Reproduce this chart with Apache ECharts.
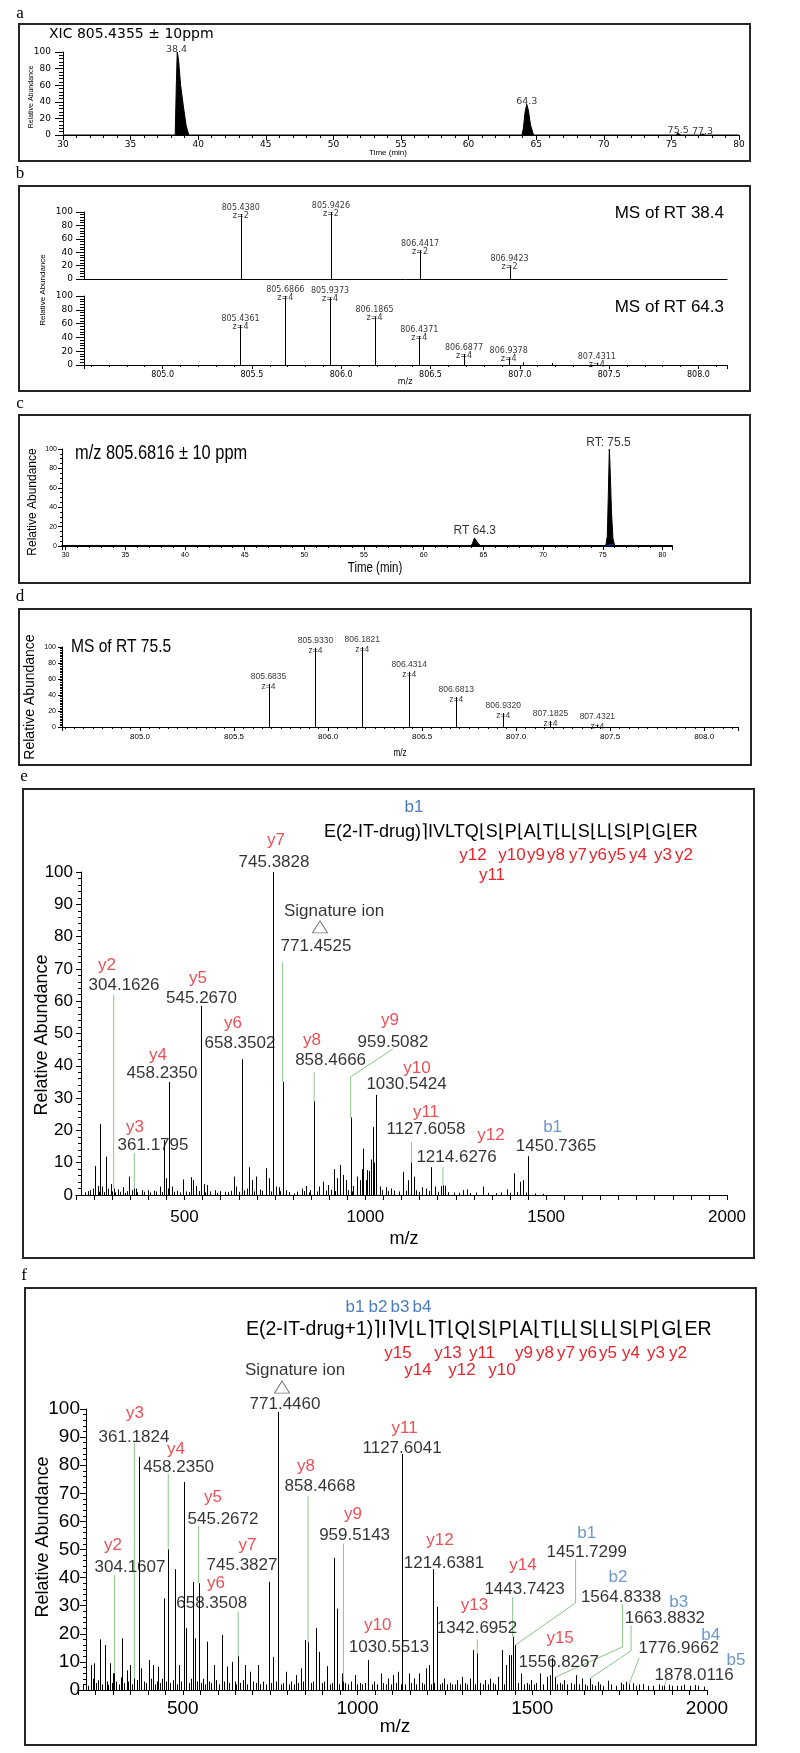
<!DOCTYPE html>
<html><head><meta charset="utf-8">
<script src="https://cdn.jsdelivr.net/npm/echarts@6/dist/echarts.min.js"></script>
<style>html,body{margin:0;padding:0;background:#fff}#c{width:800px;height:1753px}</style>
</head><body><div id="c"></div>
<script>
// ================= DATA =================
// Panel a: XIC 805.4355 (time, relative abundance)
const aTrace = [[30,0],[38.3,0],[38.38,60],[38.45,100],[38.55,90],[38.7,60],[38.9,35],[39.1,12],[39.3,0],
  [63.95,0],[64.05,8],[64.18,28],[64.3,37],[64.42,30],[64.58,12],[64.8,0],
  [75.3,0],[75.5,2],[75.7,0],[77.1,0],[77.3,1.2],[77.5,0],[80,0]];
const aPeakRT = [38.4, 64.3, 75.5, 77.3];
const aPeakTop = [100, 37, 2, 1.2];

// Panel b: MS of RT 38.4 and RT 64.3
const bTopMz = [805.4380, 805.9426, 806.4417, 806.9423];
const bTopInt = [97, 100, 43, 20];
const bTopZ = [2, 2, 2, 2];
const bBotMz = [805.4361, 805.6866, 805.9373, 806.1865, 806.4371, 806.6877, 806.9378, 807.4311];
const bBotInt = [58, 100, 98, 70, 42, 16, 11, 3];
const bBotZ = [4, 4, 4, 4, 4, 4, 4, 4];
const bBotMinor = [[807.02, 4], [807.18, 3]];

// Panel c: XIC 805.6816
const cTrace = [[29.7,0],[63.95,0],[64.1,3],[64.25,8.3],[64.4,6.5],[64.6,2],[64.8,0],
  [75.25,0],[75.38,10],[75.47,55],[75.55,100],[75.63,75],[75.73,35],[75.85,8],[76.0,0],[80.8,0]];
const cBaseFlag = [[74.95,0],[75.05,1.8],[75.9,1.8],[76.05,0]];
const cLabels = ['RT 64.3', 'RT: 75.5'];
const cLabelAt = [[64.27, 15.5], [75.48, 107]];

// Panel d: MS of RT 75.5
const dMz = [805.6835, 805.9330, 806.1821, 806.4314, 806.6813, 806.9320, 807.1825, 807.4321];
const dInt = [54, 99, 100, 69, 37.5, 17.5, 7.5, 3];
const dZ = [4, 4, 4, 4, 4, 4, 4, 4];

// Panel e: MS/MS, annotated peaks
const eLabMz  = [304.1626, 361.1795, 458.2350, 545.2670, 658.3502, 745.3828, 771.4525, 858.4666, 959.5082, 1030.5424, 1127.6058, 1214.6276, 1450.7365];
const eLabIon = ['y2','y3','y4','y5','y6','y7','','y8','y9','y10','y11','y12','b1'];
const eLabInt = [2, 2, 35, 58.5, 42, 100, 35, 29, 24, 31, 10, 3, 12];
const eNoise = [[226,0.8],[233,1.2],[240,1.5],[246,2],[253,9],[260,2.8],[263,1],[266,22],[272,2.6],[278,0.9],[283,11.9],[289,2],[297,3.4],
  [300,1.1],[309,0.8],[315,1.7],[322,1],[329,2.4],[335,0.7],[342,1.2],[347.5,5.7],[354,1.5],[366,2],[370,0.9],[382,1.5],[387,1],[398,1.5],
  [405,0.8],[417,1.3],[422,1.1],[431,2.6],[437,0.9],[443,17],[449,5.2],[454,2],[465,2.6],[470,1],[480,1.3],[488,0.8],[495,4.8],[505,1.1],
  [512,0.9],[518,5.5],[523,4.6],[533,2.8],[540,1.2],[553,3.4],[558,0.8],[563,3.1],[570,1.1],[583,1.5],[590,0.7],[598,1.2],[613,1],[620,0.9],
  [628,1.3],[638,5.7],[643,2.6],[650,1],[665,1.4],[673,2],[678,8.6],[688,4.6],[692,1.1],[698,5.7],[708,1.7],[715,1.3],[725,8.3],[733,5.2],
  [740,1.1],[752,2.6],[760,2.4],[765,1.2],[780,1.5],[790,0.9],[802,0.5],[810,1],[824,2],[830,1.2],[837,2.8],[843,0.8],[848,1.5],[865,1.1],
  [872,2.6],[882,4.1],[890,1.4],[897,3.1],[905,1.6],[912,8],[917,1.2],[922,5.2],[930,9.3],[937,6.2],[947,4.6],[953,1.5],[963,1.1],[967,2.8],
  [976,5.7],[984.5,4.6],[991,8],[994,14.4],[1001,4.6],[1005,7.7],[1010,7.4],[1015,11],[1021,21],[1025,10],[1040,2.6],[1045,1.5],[1056,2.4],
  [1062,1.2],[1071,2],[1080,1.4],[1092,1.1],[1105,7.2],[1112,1.3],[1119,4.6],[1134,5.7],[1140,1.5],[1148,1],[1156,2.4],[1168,2],[1176,1.2],
  [1182,8.6],[1192,2.6],[1200,1],[1210,2.8],[1220,2.8],[1228,0.9],[1245,0.8],[1260,0.7],[1271,1.5],[1281,1.7],[1290,0.6],[1305,0.8],[1326,2.6],
  [1340,0.7],[1360,0.6],[1375,0.8],[1391,1.7],[1400,0.7],[1411,6.7],[1420,0.9],[1429,4.1],[1436,4.6],[1445,0.8],[1470,0.5],[1490,0.4]];
const eGuides = [
  [[304.1626,2],[304.1626,62]], [[361.1795,2],[361.1795,13]], [[771.4525,35],[771.4525,72]],
  [[858.4666,29],[858.4666,38]], [[959.5082,24],[959.5082,36.6],[1076.2,45.2]],
  [[1127.6058,10],[1127.6058,16.4]], [[1214.6276,3],[1214.6276,8.7]]];
// label anchors (data space) for e
const eIonAt = [[285.7,71.2],[363.1,21.1],[426.7,43.3],[537.3,67.2],[634.1,53.3],[753,109.9],null,[852.5,48],[1068.2,54.2],[1142.8,39.3],[1167.7,25.7],[1347.4,18.6],[1517.8,21.1]];
const eMzAt = [[332.7,65],[412.9,15.5],[437.8,37.8],[547,61],[653.4,47.1],[747.5,103.1],[863.6,77.1],[904,41.8],[1076.5,47.4],[1114.1,34.4],[1167.7,20.4],[1252.3,11.8],[1527.2,15.2]];
const eSigTextAt = [913.4, 87.9], eSigMarkAt = [874.6, 83];

// Panel f: MS/MS, annotated peaks
const fLabMz  = [304.1607, 361.1824, 458.2350, 545.2672, 658.3508, 745.3827, 771.4460, 858.4668, 959.5143, 1030.5513, 1127.6041, 1214.6381, 1342.6952, 1443.7423, 1451.7299, 1556.8267, 1564.8338, 1663.8832, 1776.9662, 1878.0116];
const fLabIon = ['y2','y3','y4','y5','y6','y7','','y8','y9','y10','y11','y12','y13','y14','b1','y15','b2','b3','b4','b5'];
const fLabInt = [6, 4, 50, 38, 12, 38.5, 99, 17, 3, 10.7, 84, 43, 13, 19, 16, 11.4, 4.5, 4, 2, 1.5];
const fNoise = [[215,2],[222,3],[230,1.5],[237,8.9],[242,4],[247,9.5],[252,2.5],[258,3.5],[262,18],[268,2],[276,16],[282,3],[287,1.8],[291,9.5],
  [296,2.5],[301,5.9],[310,3],[316,2],[322,4.5],[327,18.4],[333,2.5],[339,7],[344,3],[349,8.9],[355,2],[368,3.5],[374,83],[381,7.7],[388,3],
  [395,2.5],[403,10.7],[409,4],[415,8.9],[420,2],[425,3],[430,8.3],[436,2.5],[441,4],[447,32.6],[452,3],[464,2.5],[473,3.5],[478,43],[483,2],
  [488,8.9],[495,3],[503,74],[510,22],[518,2.5],[523,4],[529,38.5],[536,18.4],[541,3],[552,2.5],[558,4],[563,2],[569,17.2],[575,3],[582,2.5],
  [588,8.9],[595,3.5],[603,2],[612,19.6],[618,3],[627,8.3],[633,2.5],[642,10],[648,3],[653,2],[665,2.5],[672,3.5],[678,8.9],[685,2],[693,6.5],
  [700,3],[708,2.5],[715,8.9],[722,2],[730,3],[738,2],[752,2.5],[759,11.8],[766,3],[780,2],[788,2.5],[795,6.5],[803,2],[810,3],[817,2],[824,5.3],
  [830,2.5],[839,7.7],[845,3],[851,17.8],[866,2.5],[873,3],[880,22],[890,13.6],[897,2.5],[905,3],[912,8.5],[920,2],[927,2.5],[934,47],[941,29],
  [948,2],[956,5.9],[965,2.5],[972,2],[980,3],[992,5.3],[999,2],[1006,2.5],[1014,2],[1022,2.5],[1040,2],[1048,3],[1056,2],[1066,5.9],[1074,2.5],
  [1081,2],[1088,4.1],[1095,2],[1102,5.3],[1110,2.5],[1117,6.5],[1124,2],[1136,2],[1146,5.9],[1153,2.5],[1161,4.1],[1168,2],[1175,5.9],[1183,2.5],
  [1190,2],[1197,7.7],[1204,8.9],[1211,2],[1219,2.5],[1226,29.6],[1235,2],[1241,2.5],[1248,4.1],[1256,2],[1264,2.5],[1271,2],[1278,2],[1285,3.5],
  [1292,2],[1300,4.7],[1307,2.5],[1314,2],[1321,4.1],[1329,14.2],[1336,2],[1350,2.5],[1358,2],[1365,3.5],[1372,2],[1380,4.1],[1387,2.5],[1394,2],
  [1402,4.7],[1412,14.2],[1418,2],[1424,8.9],[1432,12.4],[1438,12.4],[1460,2.5],[1468,5.9],[1476,2],[1484,2.5],[1490,2],[1497,3.5],[1504,2],
  [1512,2.5],[1523,5.9],[1530,2],[1541,4.7],[1550,5.3],[1570,2],[1578,2.5],[1585,2],[1592,3.5],[1600,2],[1610,2.5],[1618,2],[1626,5.3],[1635,2],
  [1643,4.1],[1650,2],[1656,1.5],[1672,2],[1680,1.5],[1687,2.9],[1695,2],[1702,1.5],[1716,3.3],[1725,2],[1740,1.5],[1753,2.6],[1760,2],[1767,2.9],
  [1789,2.4],[1797,1.5],[1806,2],[1818,2.1],[1830,1.5],[1845,1.5],[1862,2],[1870,1.5],[1891,1.9],[1900,1.5],[1915,1.5],[1925,1.5],[1935,1.9],
  [1950,1.5],[1965,1.8],[1975,1.5],[1990,1.2]];
const fGuides = [
  [[304.1607,6],[304.1607,41]], [[361.1824,4],[361.1824,88]], [[458.2350,50],[458.2350,77]], [[545.2672,38],[545.2672,58.5]],
  [[658.3508,12],[658.3508,28]], [[858.4668,17],[858.4668,69]], [[959.5143,3],[959.5143,52]], [[1342.6952,13],[1342.6952,18]],
  [[1443.7423,19],[1443.7423,33]], [[1451.7299,16],[1623.9,31],[1623.9,46.5]], [[1564.8338,4.5],[1758,15.3],[1758,30.5]],
  [[1663.8832,4],[1782.7,14],[1782.7,23]], [[1776.9662,2],[1806,11.5]], [[1878.0116,1.5],[1886,4.2]]];
const fIonAt = [[300.2,51.6],[363.1,98.6],[480.5,85.8],[586.4,68.7],[595,38.1],[684.8,51.6],null,[852.5,79.7],[987,62.6],[1057.5,23.1],
  [1134.7,93.2],[1236,53.4],[1334.8,30.2],[1473.6,44.5],[1655.9,55.9],[1579.6,18.5],[1745.5,40.2],[1918.9,31.3],[2010.8,19.6],[2083.2,10.7]];
const fMzAt = [[348.8,43.8],[360.3,90],[487.9,79.4],[615,60.9],[582.7,31],[669.4,44.5],[792.4,101.8],[892.6,72.6],[991.6,55.2],[1090.1,15.3],
  [1127.3,86.1],[1247.5,45.2],[1341.9,22.1],[1477.9,35.9],[1655.9,49.1],[1575.8,10],[1754.1,33.1],[1879.4,25.6],[1918.9,14.9],[1963,5.3]];
const fSigTextAt = [821, 113.9], fSigMarkAt = [783.9, 107.8];

// ================= STYLE / LAYOUT =================
const RED = '#e3262d', BLUE = '#4a7dbd', GREEN = '#8cc68c';
const SANS = '"Liberation Sans", Arial, sans-serif';
const WIDE = '"DejaVu Sans", sans-serif';
const NX = 0.82; // horizontal squeeze emulating a condensed face

const grids = [
  {left:63, top:52, width:676, height:83},     // a
  {left:84, top:212, width:643, height:67},    // b top
  {left:84, top:296, width:643, height:69},    // b bottom
  {left:62, top:449, width:610, height:97},    // c
  {left:62, top:647, width:676, height:80},    // d
  {left:76, top:872, width:651, height:323},   // e
  {left:78, top:1409, width:629, height:281}   // f
].map(g => Object.assign({containLabel:false, outerBoundsMode:'none'}, g));

const halfFmt = v => (Math.abs(v*2 - Math.round(v*2)) < 1e-6 ? v.toFixed(1) : '');
const fiveFmt = v => (Math.abs(v/5 - Math.round(v/5)) < 1e-6 ? String(Math.round(v)) : '');
const fmt500 = v => (Math.abs(v % 500) < 1e-6 ? String(Math.round(v)) : '');

function xAx(gi, min, max, o) {
  return {
    type:'value', gridIndex:gi, min, max, interval:o.interval, splitNumber:o.splitNumber,
    splitLine:{show:false},
    axisLine:{show:true, onZero:false, lineStyle:{color:'#000', width:o.lw || 1}},
    axisTick:{show:o.ticks !== false, length:o.tick || 4, lineStyle:{color:'#000'}},
    minorTick:{show:!!o.minor, splitNumber:o.minor || 5, length:o.mtick || 2, lineStyle:{color:'#000'}},
    axisLabel:{show:o.labels !== false, color:'#000', fontSize:o.fs || 9, fontFamily:o.ff || SANS, margin:o.margin || 4,
      formatter:o.fmt, showMinLabel:true, showMaxLabel:true, hideOverlap:false}
  };
}
function yAx(gi, o) {
  return {
    type:'value', gridIndex:gi, min:0, max:100, interval:o.interval || 20, offset:o.offset || 0,
    splitLine:{show:false},
    axisLine:{show:true, onZero:false, lineStyle:{color:'#000', width:1}},
    axisTick:{show:true, length:o.tick || 6, lineStyle:{color:'#000'}},
    minorTick:{show:true, splitNumber:o.minor || 5, length:o.mtick || 3, lineStyle:{color:'#000'}},
    axisLabel:{show:true, color:'#000', fontSize:o.fs || 9, fontFamily:o.ff || SANS, margin:o.margin || 6, hideOverlap:false}
  };
}

const xAxes = [
  xAx(0, 30, 80, {interval:5, minor:5, tick:5, mtick:3, fs:9, ff:WIDE, margin:5}),
  xAx(1, 804.56, 808.16, {splitNumber:7, ticks:false, labels:false}),
  xAx(2, 804.56, 808.16, {splitNumber:7, minor:5, tick:4, mtick:2, fs:8, ff:WIDE, margin:6, fmt:halfFmt}),
  xAx(3, 29.7, 80.8, {splitNumber:10, minor:5, tick:4, mtick:2, fs:7, ff:SANS, margin:6, fmt:fiveFmt, lw:2}),
  xAx(4, 804.585, 808.18, {splitNumber:7, minor:10, tick:4, mtick:2, fs:8, ff:SANS, margin:6, fmt:halfFmt}),
  xAx(5, 200, 2000, {interval:50, tick:5, fs:17, ff:SANS, margin:14, fmt:fmt500}),
  xAx(6, 200, 2000, {interval:50, tick:5, fs:19, ff:SANS, margin:9, fmt:fmt500})
];
const yAxes = [
  yAx(0, {tick:8, mtick:4, fs:9, ff:WIDE, margin:12, minor:5}),
  yAx(1, {tick:8, mtick:4, fs:9, ff:WIDE, margin:11, minor:5}),
  yAx(2, {tick:8, mtick:4, fs:9, ff:WIDE, margin:11, minor:5}),
  yAx(3, {tick:4, mtick:2, fs:7, ff:SANS, margin:5, minor:4}),
  yAx(4, {tick:4, mtick:2, fs:7, ff:SANS, margin:6, minor:10}),
  yAx(5, {interval:10, tick:5, mtick:3, fs:17, ff:SANS, margin:8, minor:5, offset:-5}),
  yAx(6, {interval:10, tick:6, mtick:3, fs:19, ff:SANS, margin:6, minor:5, offset:-8})
];

// ================= SERIES HELPERS =================
function sticks(gi, data, color, width) {
  return {type:'custom', xAxisIndex:gi, yAxisIndex:gi, data, silent:true, clip:false, z:3,
    renderItem(params, api) {
      const x = api.value(0), y = api.value(1);
      const p0 = api.coord([x, 0]), p1 = api.coord([x, y]);
      const px = Math.round(p0[0]) + 0.5;
      return {type:'line', shape:{x1:px, y1:p0[1], x2:px, y2:p1[1]}, style:{stroke:color, lineWidth:width || 1}};
    }};
}
function guides(gi, list) {
  return {type:'lines', coordinateSystem:'cartesian2d', xAxisIndex:gi, yAxisIndex:gi, polyline:true, silent:true, z:2,
    data:list.map(c => ({coords:c})), lineStyle:{color:GREEN, width:1, opacity:1}, effect:{show:false}};
}
function labels(gi, pts, texts, colors, lab) {
  const data = [];
  pts.forEach((p, i) => { if (p && texts[i] !== '') data.push({value:p, label:{formatter:texts[i], color:colors ? colors[i] : '#000'}}); });
  return {type:'scatter', xAxisIndex:gi, yAxisIndex:gi, symbolSize:1, clip:false, silent:true, z:6,
    itemStyle:{color:'rgba(0,0,0,0)'}, data,
    label:Object.assign({show:true, position:'inside', align:'center', verticalAlign:'middle', color:'#000'}, lab)};
}
const ionColor = ion => (ion.charAt(0) === 'b' ? BLUE : RED);

const series = [];
// ---- a
series.push({type:'line', xAxisIndex:0, yAxisIndex:0, data:aTrace, symbol:'none', silent:true,
  lineStyle:{color:'#000', width:1}, areaStyle:{color:'#000', opacity:1}});
series.push(labels(0, aPeakRT.map((t, i) => [t, aPeakTop[i]]), aPeakRT.map(t => t.toFixed(1)), null,
  {position:'top', distance:2, fontSize:9.5, fontFamily:WIDE}));
// ---- b
series.push(sticks(1, bTopMz.map((m, i) => [m, bTopInt[i]]), '#000', 1));
series.push(labels(1, bTopMz.map((m, i) => [m, bTopInt[i]]), bTopMz.map((m, i) => m.toFixed(4) + '\nz=' + bTopZ[i]), null,
  {position:'top', distance:2, fontSize:8, lineHeight:8, fontFamily:WIDE}));
series.push(sticks(2, bBotMz.map((m, i) => [m, bBotInt[i]]).concat(bBotMinor), '#000', 1));
series.push(labels(2, bBotMz.map((m, i) => [m, bBotInt[i]]), bBotMz.map((m, i) => m.toFixed(4) + '\nz=' + bBotZ[i]), null,
  {position:'top', distance:2, fontSize:8, lineHeight:8, fontFamily:WIDE}));
// ---- c
series.push({type:'line', xAxisIndex:3, yAxisIndex:3, data:cBaseFlag, symbol:'none', silent:true,
  lineStyle:{color:'#2035c8', width:1}, areaStyle:{color:'#2035c8', opacity:1}});
series.push({type:'line', xAxisIndex:3, yAxisIndex:3, data:cTrace, symbol:'none', silent:true,
  lineStyle:{color:'#000', width:1}, areaStyle:{color:'#000', opacity:1}});
series.push(labels(3, cLabelAt, cLabels, null, {fontSize:12, fontFamily:SANS}));
// ---- d
series.push(sticks(4, dMz.map((m, i) => [m, dInt[i]]), '#000', 1));
series.push(labels(4, dMz.map((m, i) => [m, dInt[i]]), dMz.map((m, i) => m.toFixed(4) + '\nz=' + dZ[i]), null,
  {position:'top', distance:2, fontSize:8.5, lineHeight:10, fontFamily:SANS}));
// ---- e
series.push(guides(5, eGuides));
series.push(sticks(5, eNoise, '#000', 1));
series.push(sticks(5, eLabMz.map((m, i) => [m, eLabInt[i]]), '#000', 1));
series.push(labels(5, eIonAt, eLabIon, eLabIon.map(ionColor), {fontSize:17, fontFamily:SANS}));
series.push(labels(5, eMzAt, eLabMz.map(m => m.toFixed(4)), null, {fontSize:17, fontFamily:SANS}));
series.push(labels(5, [eSigTextAt], ['Signature ion'], null, {fontSize:17, fontFamily:SANS}));
series.push({type:'scatter', xAxisIndex:5, yAxisIndex:5, clip:false, silent:true, symbol:'triangle', symbolSize:[15, 12],
  itemStyle:{color:'#fff', borderColor:'#555', borderWidth:1}, data:[eSigMarkAt], z:6});
// ---- f
series.push(guides(6, fGuides));
series.push(sticks(6, fNoise, '#000', 1));
series.push(sticks(6, fLabMz.map((m, i) => [m, fLabInt[i]]), '#000', 1));
series.push(labels(6, fIonAt, fLabIon, fLabIon.map(ionColor), {fontSize:17, fontFamily:SANS}));
series.push(labels(6, fMzAt, fLabMz.map(m => m.toFixed(4)), null, {fontSize:17, fontFamily:SANS}));
series.push(labels(6, [fSigTextAt], ['Signature ion'], null, {fontSize:17, fontFamily:SANS}));
series.push({type:'scatter', xAxisIndex:6, yAxisIndex:6, clip:false, silent:true, symbol:'triangle', symbolSize:[15, 12],
  itemStyle:{color:'#fff', borderColor:'#555', borderWidth:1}, data:[fSigMarkAt], z:6});

// ================= GRAPHIC (frames, titles) =================
function T(text, x, y, font, o) {
  o = o || {};
  const el = {type:'text', x, y, silent:true, z:20,
    style:Object.assign({text, fill:'#000', font, align:'center', verticalAlign:'middle', textAlign:'center', textVerticalAlign:'middle'}, o.style || {})};
  if (o.rotation) el.rotation = o.rotation;
  if (o.sx) { el.scaleX = o.sx; }
  if (o.sy) { el.scaleY = o.sy; }
  return el;
}
function L(text, x, y, font, o) { o = o || {}; o.style = Object.assign({align:'left', textAlign:'left'}, o.style || {}); return T(text, x, y, font, o); }
function R(text, x, y, font, o) { o = o || {}; o.style = Object.assign({align:'right', textAlign:'right'}, o.style || {}); return T(text, x, y, font, o); }
function V(text, x, y, font, o) { o = o || {}; o.rotation = Math.PI / 2; return T(text, x, y, font, o); }
function box(x, y, w, h) { return {type:'rect', silent:true, z:1, shape:{x, y, width:w, height:h}, style:{fill:'none', stroke:'#262626', lineWidth:2}}; }
const red = {style:{fill:RED}}, blue = {style:{fill:BLUE}};
const F17 = '17px ' + SANS;

const SERIF = '17px "Liberation Serif", "DejaVu Serif", serif';
const graphic = [
  box(19, 24, 731, 137), box(19, 186, 731, 205), box(19, 415, 731, 168), box(19, 609, 732, 156),
  box(23, 789, 731, 469), box(25, 1288, 731, 457),
  T('a', 20, 14, SERIF), T('b', 20, 174, SERIF), T('c', 20, 404, SERIF), T('d', 20, 597, SERIF),
  T('e', 24, 777, SERIF), T('f', 24, 1276, SERIF),
  // a
  L('XIC 805.4355 \u00b1 10ppm', 49, 34, '14px ' + WIDE),
  V('Relative Abundance', 31, 97, '7px ' + SANS),
  T('Time (min)', 388, 153, '8px ' + SANS),
  // b
  R('MS of RT 38.4', 724, 213, '17px ' + SANS),
  R('MS of RT 64.3', 724, 307, '17px ' + SANS),
  V('Relative Abundance', 43, 290, '8px ' + SANS),
  T('m/z', 405, 382, '8px ' + WIDE),
  // c
  L('m/z 805.6816 \u00b1 10 ppm', 75, 453, '20px ' + SANS, {sx:NX}),
  V('Relative Abundance', 33, 502, '12px ' + SANS),
  T('Time (min)', 375, 568, '14px ' + SANS, {sx:NX}),
  // d
  L('MS of RT 75.5', 71, 647, '19px ' + SANS, {sx:NX}),
  V('Relative Abundance', 30, 697, '14px ' + SANS),
  T('m/z', 400, 753, '10px ' + SANS, {sx:NX}),
  // e
  L('E(2-IT-drug)\u2309IVLTQ\u230aS\u230aP\u230aA\u230aT\u230aL\u230aS\u230aL\u230aS\u230aP\u230aG\u230aER', 324, 832, '18px ' + SANS),
  T('b1', 414, 807, F17, blue),
  T('y12', 473, 855, F17, red), T('y11', 492, 875, F17, red),
  T('y10', 512, 855, F17, red), T('y9', 536, 855, F17, red),
  T('y8', 556, 855, F17, red), T('y7', 578, 855, F17, red),
  T('y6', 598, 855, F17, red), T('y5', 617, 855, F17, red),
  T('y4', 638, 855, F17, red), T('y3', 663, 855, F17, red),
  T('y2', 684, 855, F17, red),
  V('Relative Abundance', 42, 1035, '18px ' + SANS),
  T('m/z', 404, 1239, '18px ' + SANS),
  // f
  L('E(2-IT-drug+1)\u2309I\u2309V\u230aL\u2309T\u230aQ\u230aS\u230aP\u230aA\u230aT\u230aL\u230aS\u230aL\u230aS\u230aP\u230aG\u230aER', 246, 1330, '19.5px ' + SANS),
  T('b1', 355, 1307, F17, blue), T('b2', 378, 1307, F17, blue),
  T('b3', 400, 1307, F17, blue), T('b4', 422, 1307, F17, blue),
  T('y15', 398, 1353, F17, red), T('y13', 448, 1353, F17, red),
  T('y11', 482, 1353, F17, red), T('y9', 524, 1353, F17, red),
  T('y8', 545, 1353, F17, red), T('y7', 566, 1353, F17, red),
  T('y6', 588, 1353, F17, red), T('y5', 608, 1353, F17, red),
  T('y4', 631, 1353, F17, red), T('y3', 656, 1353, F17, red),
  T('y2', 678, 1353, F17, red),
  T('y14', 418, 1370, F17, red), T('y12', 462, 1370, F17, red),
  T('y10', 502, 1370, F17, red),
  V('Relative Abundance', 43, 1537, '18px ' + SANS),
  T('m/z', 395, 1727, '19px ' + SANS)
];

const chart = echarts.init(document.getElementById('c'), null, {renderer:'canvas', width:800, height:1753});
chart.setOption({
  animation:false, backgroundColor:'#fff',
  grid:grids, xAxis:xAxes, yAxis:yAxes, series, graphic
});
</script>
</body></html>
